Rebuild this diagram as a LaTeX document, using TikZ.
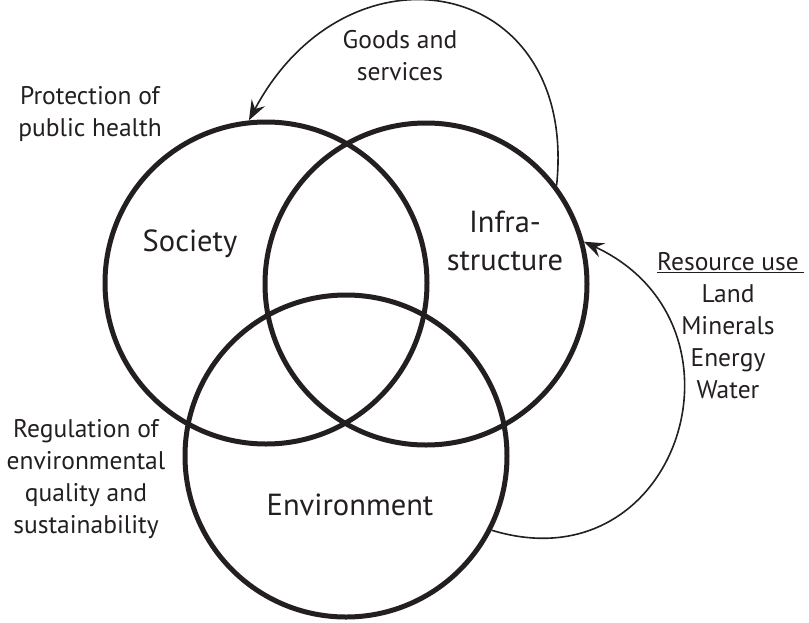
\documentclass[tikz,border=0pt]{standalone}
\usepackage{fontspec}
\setmainfont{PT Sans}
\usetikzlibrary{arrows.meta}
\definecolor{ink}{HTML}{231F20}

\begin{document}
\begin{tikzpicture}[x=1pt,y=-1pt,
    ring/.style={circle,draw=ink,line width=5pt,minimum size=322pt,inner sep=0pt},
    lbl/.style={align=center,anchor=base,text=ink,font=\fontsize{25.5}{32}\selectfont},
    big/.style={align=center,anchor=base,text=ink,font=\fontsize{30.5}{38}\selectfont},
    flow/.style={draw=ink,line width=1.6pt,-{Stealth[length=20pt,width=15pt,inset=7pt]}}]
    \useasboundingbox (0,0) rectangle (809,622);
    % the three spheres
    \node[ring] (soc) at (266,283) {};
    \node[ring] (inf) at (426,284) {};
    \node[ring] (env) at (346,456) {};
    \node[big] (society) at (190,251) {Society};
    \node[big] (infra) at (505,270) {Infra-\\structure};
    \node[big] (environ) at (350,515) {Environment};
    % side labels (base = last line)
    \node[lbl] (goods) at (400,80) {Goods and\\services};
    \node[lbl] (health) at (90,136) {Protection of\\public health};
    \node[lbl] (regul) at (86,533) {Regulation of\\environmental\\quality and\\sustainability};
    \node[lbl] (res) at (728,398) {\underline{Resource use\kern5pt}\kern-5pt\\Land\\Minerals\\Energy\\Water};
    % flows
    \draw[flow] (inf.37) to[out=84,in=62,looseness=1.72] (soc.96);
    \draw[flow] (env.-27.5) to[out=-17,in=-25,looseness=1.65] (inf.15);
\end{tikzpicture}
\end{document}
